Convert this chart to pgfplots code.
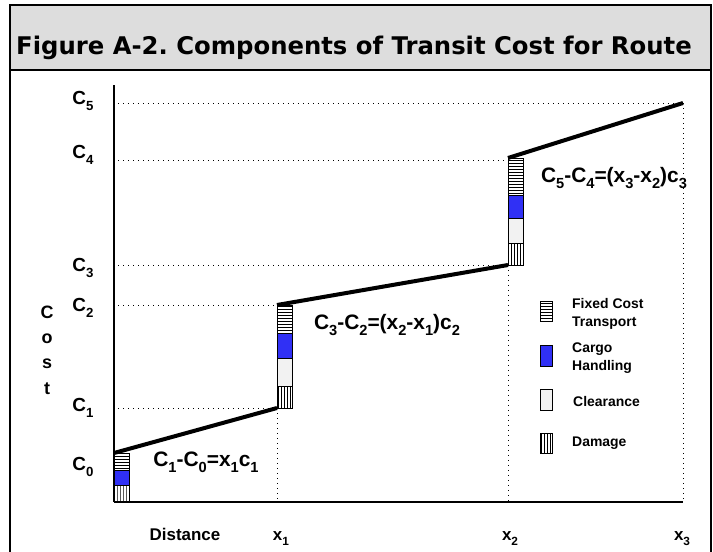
\documentclass[border=0pt]{standalone}
\usepackage{fontspec}
\setmainfont{Liberation Sans}
\newfontfamily\titlefont{DejaVu Sans}
\usepackage{graphicx}
\usepackage{pgfplots}
\pgfplotsset{compat=1.18}
\usetikzlibrary{patterns}
\frenchspacing

\definecolor{cargoblue}{RGB}{48,48,245}
\definecolor{clearfill}{RGB}{242,242,242}
\definecolor{titlegray}{RGB}{221,221,221}

\pgfplotsset{
  dotline/.style={black, line width=0.8bp, dash pattern=on 1bp off 4bp},
  box/.style={draw=black, line width=0.6bp},
}
\newcommand{\lab}[1]{\bfseries\fontsize{#1}{#1}\selectfont}
\newcommand{\sub}[1]{\raisebox{-0.3em}{\scalebox{0.7}{#1}}}

\begin{document}
\begin{tikzpicture}
\useasboundingbox (0,0) rectangle (713bp,-552bp);
% title bar and frame
\fill[titlegray] (10bp,-5bp) rectangle (711bp,-70bp);
\draw[line width=2bp] (10bp,-552bp) -- (10bp,-5bp) -- (711bp,-5bp) -- (711bp,-552bp);
\draw[line width=2.5bp] (10bp,-70bp) -- (711bp,-70bp);
\node[anchor=base west, inner sep=0pt, font=\titlefont\bfseries\fontsize{24.4}{28}\selectfont]
  at (16bp,-54bp) {Figure A-2. Components of Transit Cost for Route};

% main axis: cost curve, guide lines, labels
\begin{axis}[
  at={(114bp,-502bp)}, anchor=south west,
  scale only axis, width=569bp, height=417bp,
  xmin=0, xmax=569, ymin=0, ymax=417,
  axis lines=left, axis line style={line width=2.5bp, -},
  clip=false,
  major tick length=0pt,
  ytick={35,94,194,234,347,401},
  yticklabels={C\sub{0},C\sub{1},C\sub{2},C\sub{3},C\sub{4},C\sub{5}},
  yticklabel style={font=\lab{19}, anchor=east, xshift=-17bp},
  xtick={71,167,396,568},
  xticklabels={Distance,x\sub{1},x\sub{2},x\sub{3}},
  xticklabel style={font=\lab{17}, anchor=base, yshift=-38bp},
  unbounded coords=jump,
]
% dotted guide lines
\addplot[dotline] coordinates {(4,399) (569,399)};
\addplot[dotline] coordinates {(4,342) (394,342)};
\addplot[dotline] coordinates {(4,237) (394,237)};
\addplot[dotline] coordinates {(4,197) (163,197)};
\addplot[dotline] coordinates {(4,94) (163,94)};
\addplot[dotline] coordinates {(163,94) (163,0)};
\addplot[dotline] coordinates {(394,237) (394,0)};
\addplot[dotline] coordinates {(569,399) (569,0)};
% cost curve
\addplot[black, line width=4bp] coordinates {
  (0,49) (163,94) (163,nan)
  (163,197) (394,237) (394,nan)
  (394,344) (569,399)
};
% legend swatches
\addplot[box, pattern=horizontal lines] coordinates {(426,181) (438,181) (438,201) (426,201)} -- cycle;
\addplot[box, fill=cargoblue] coordinates {(426,136) (438,136) (438,157) (426,157)} -- cycle;
\addplot[box, fill=clearfill] coordinates {(426,92) (438,92) (438,113) (426,113)} -- cycle;
\addplot[box, pattern=vertical lines] coordinates {(426,49) (438,49) (438,69) (426,69)} -- cycle;
\begin{scope}[every node/.style={font=\bfseries\fontsize{14}{18.5}\selectfont, anchor=west, align=left, inner sep=0pt}]
\node at (axis cs:458,188) {Fixed Cost\\Transport};
\node at (axis cs:458,144) {Cargo\\Handling};
\node at (axis cs:459,100) {Clearance};
\node at (axis cs:458,59) {Damage};
\end{scope}
\node[font=\bfseries\fontsize{18}{25.5}\selectfont, align=center, inner sep=0pt]
  at (axis cs:-67,152) {C\\o\\s\\t};
\node[font=\lab{21}] at (axis cs:92,40) {C\sub{1}-C\sub{0}=x\sub{1}c\sub{1}};
\node[font=\lab{21}] at (axis cs:273,177) {C\sub{3}-C\sub{2}=(x\sub{2}-x\sub{1})c\sub{2}};
\node[font=\lab{21}] at (axis cs:500,324) {C\sub{5}-C\sub{4}=(x\sub{3}-x\sub{2})c\sub{3}};
\end{axis}

% stacked cost components
\begin{axis}[
  at={(114bp,-502bp)}, anchor=south west,
  scale only axis, width=569bp, height=417bp,
  xmin=0, xmax=569, ymin=0, ymax=417,
  hide axis, clip=false,
  ybar stacked, bar width=15, bar shift=7.5,
]
\addplot[draw=none, fill=none] coordinates {(0,0) (163,94) (394,237)};
\addplot[box, pattern=vertical lines] coordinates {(0,17) (163,22) (394,22)};
\addplot[box, fill=clearfill] coordinates {(0,0) (163,28) (394,25)};
\addplot[box, fill=cargoblue] coordinates {(0,15) (163,25) (394,23)};
\addplot[box, pattern=horizontal lines] coordinates {(0,17) (163,28) (394,37)};
\end{axis}
\end{tikzpicture}
\end{document}
